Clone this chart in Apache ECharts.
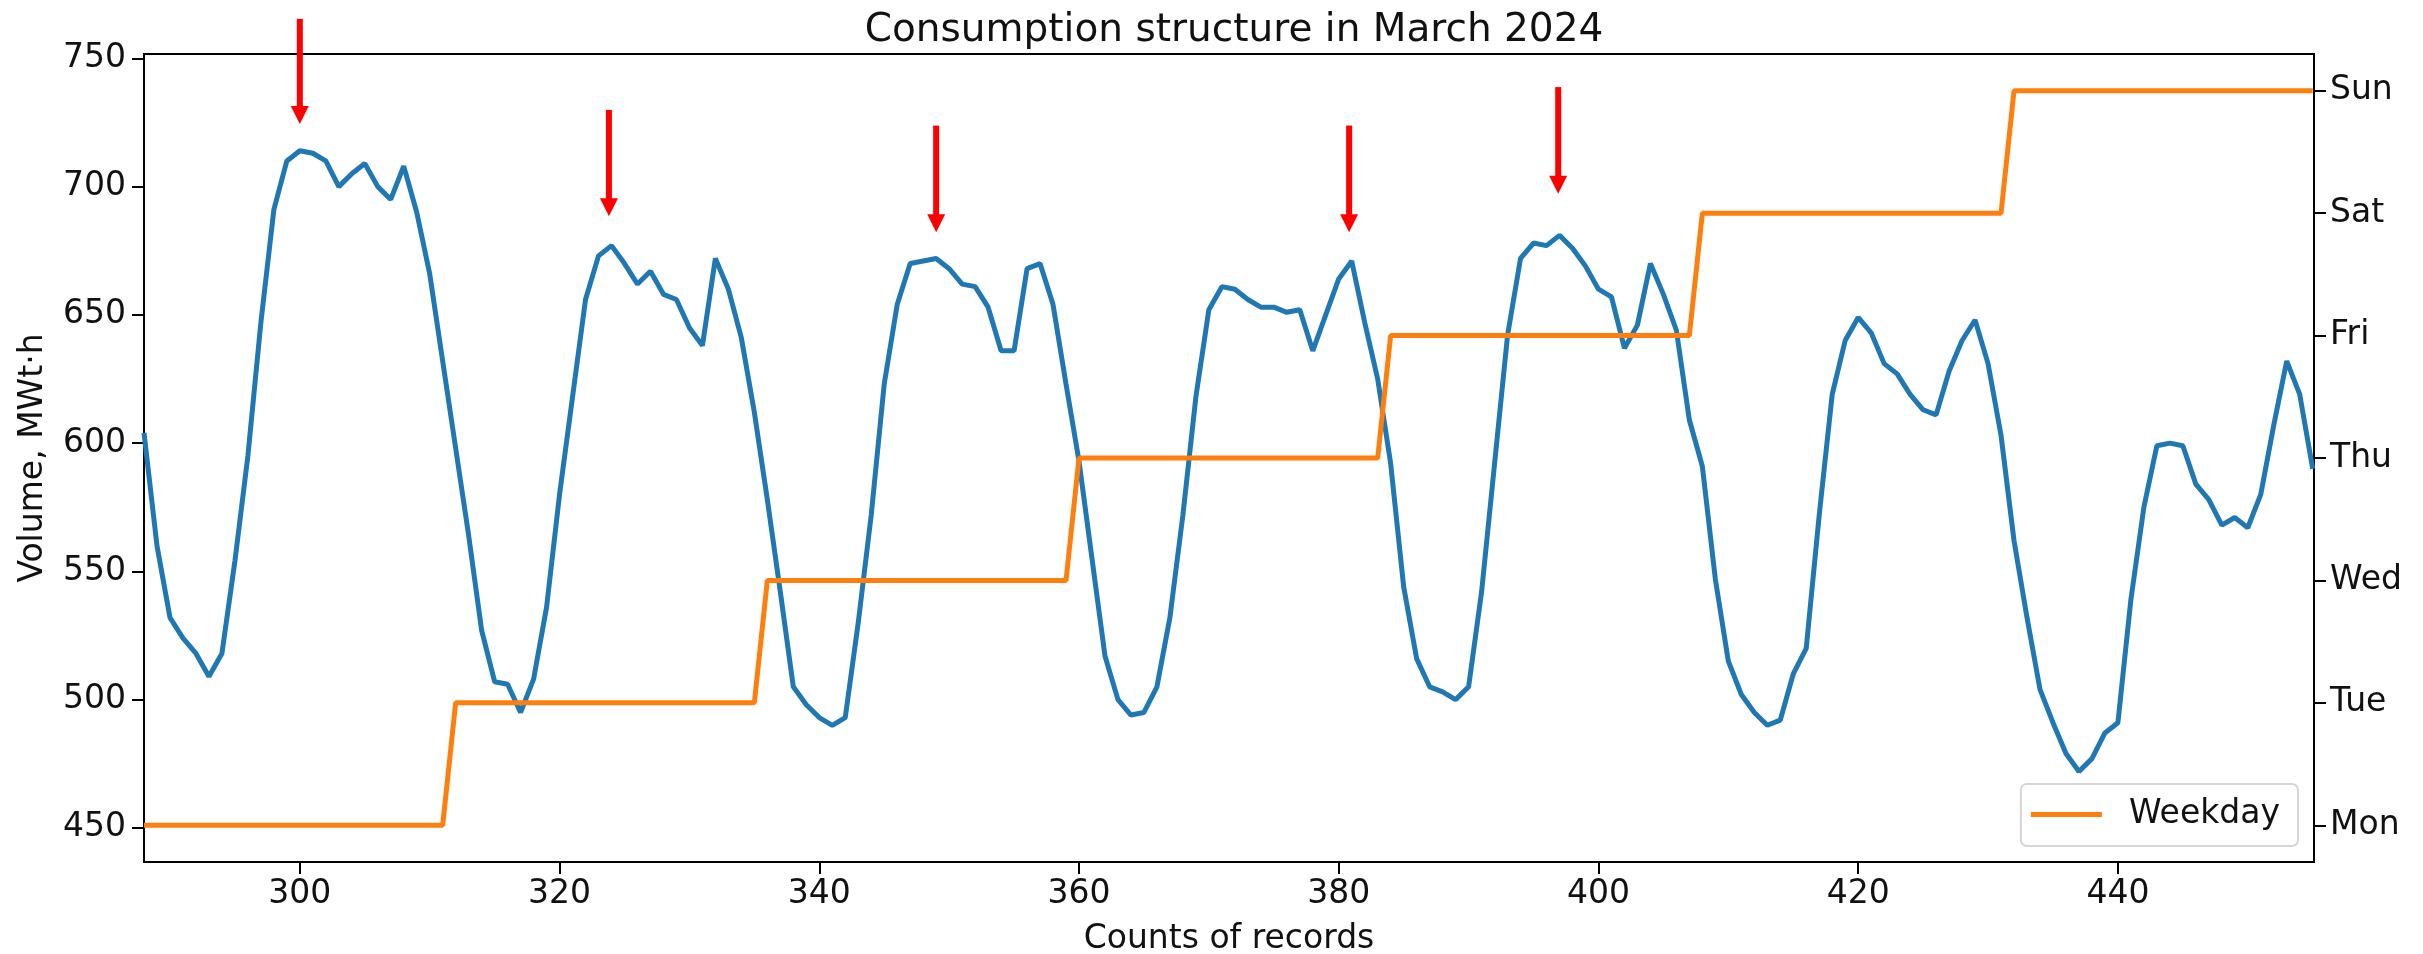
<!DOCTYPE html>
<html>
<head>
<meta charset="utf-8">
<title>Consumption structure in March 2024</title>
<script src="https://cdn.jsdelivr.net/npm/echarts@6/dist/echarts.min.js"></script>
<style>
  html, body { margin: 0; padding: 0; background: #fff; }
  #chart { width: 2423px; height: 954px; }
</style>
</head>
<body>
<div id="chart"></div>
<script>
// first record shown on the x axis, values follow one per record
var startRecord = 288;

// hourly consumption, MWt·h (records 288..455)
var volume = [
  604, 560, 532, 524, 518, 509, 518, 554, 595, 647, 691, 710,
  714, 713, 710, 700, 705, 709, 700, 695, 708, 690, 666, 632,
  598, 564, 527, 507, 506, 495, 508, 536, 580, 618, 656, 673,
  677, 670, 662, 667, 658, 656, 645, 638, 672, 660, 641, 612,
  578, 542, 505, 498, 493, 490, 493, 530, 572, 623, 654, 670,
  671, 672, 668, 662, 661, 653, 636, 636, 668, 670, 654, 623,
  593, 555, 517, 500, 494, 495, 505, 532, 572, 618, 652, 661,
  660, 656, 653, 653, 651, 652, 636, 650, 664, 671, 647, 625,
  592, 544, 516, 505, 503, 500, 505, 542, 592, 642, 672, 678,
  677, 681, 676, 669, 660, 657, 637, 646, 670, 658, 644, 609,
  591, 547, 515, 502, 495, 490, 492, 510, 520, 572, 619, 640,
  649, 643, 631, 627, 619, 613, 611, 628, 640, 648, 631, 603,
  562, 532, 504, 491, 479, 472, 477, 487, 491, 539, 575, 599,
  600, 599, 584, 578, 568, 571, 567, 580, 607, 632, 619, 590
];

// day of week index per record (0 = Mon), records 288..455
var weekday = [
  0, 0, 0, 0, 0, 0, 0, 0, 0, 0, 0, 0, 0, 0, 0, 0, 0, 0, 0, 0, 0, 0, 0, 0,
  1, 1, 1, 1, 1, 1, 1, 1, 1, 1, 1, 1, 1, 1, 1, 1, 1, 1, 1, 1, 1, 1, 1, 1,
  2, 2, 2, 2, 2, 2, 2, 2, 2, 2, 2, 2, 2, 2, 2, 2, 2, 2, 2, 2, 2, 2, 2, 2,
  3, 3, 3, 3, 3, 3, 3, 3, 3, 3, 3, 3, 3, 3, 3, 3, 3, 3, 3, 3, 3, 3, 3, 3,
  4, 4, 4, 4, 4, 4, 4, 4, 4, 4, 4, 4, 4, 4, 4, 4, 4, 4, 4, 4, 4, 4, 4, 4,
  5, 5, 5, 5, 5, 5, 5, 5, 5, 5, 5, 5, 5, 5, 5, 5, 5, 5, 5, 5, 5, 5, 5, 5,
  6, 6, 6, 6, 6, 6, 6, 6, 6, 6, 6, 6, 6, 6, 6, 6, 6, 6, 6, 6, 6, 6, 6, 6
];

var dayNames = ['Mon', 'Tue', 'Wed', 'Thu', 'Fri', 'Sat', 'Sun'];
var xTicks = [300, 320, 340, 360, 380, 400, 420, 440];
var yTicks = [450, 500, 550, 600, 650, 700, 750];
var dayTicks = [0, 1, 2, 3, 4, 5, 6];

// red arrows marking the daily peaks: record, start value, tip value
var arrowX = [300, 323.8, 349, 380.8, 396.9];
var arrowTop = [765.4, 729.9, 723.8, 723.8, 738.8];
var arrowTip = [724.4, 688.4, 682.2, 682.2, 697.2];

var volumePoints = volume.map(function (v, i) { return [startRecord + i, v]; });
var weekdayPoints = weekday.map(function (d, i) { return [startRecord + i, d]; });
var arrowData = arrowX.map(function (x, i) { return [x, arrowTop[i], arrowTip[i]]; });

var font = 'DejaVu Sans';
var ink = '#111';

var chart = echarts.init(document.getElementById('chart'), null, { renderer: 'canvas' });

var option = {
  animation: false,
  backgroundColor: '#fff',
  textStyle: { fontFamily: font },
  title: {
    text: 'Consumption structure in March 2024',
    left: 1229,
    textAlign: 'center',
    top: 6,
    textStyle: { fontFamily: font, fontSize: 39, fontWeight: 'normal', color: ink }
  },
  legend: {
    data: ['Weekday'],
    right: 125,
    top: 784,
    icon: 'rect',
    itemWidth: 71,
    itemHeight: 5,
    padding: [12, 18, 13, 10],
    borderColor: '#d6d6d6',
    borderWidth: 2,
    borderRadius: 6,
    backgroundColor: '#fff',
    textStyle: { fontFamily: font, fontSize: 33, color: ink, lineHeight: 37, padding: [0, 0, 0, 22] }
  },
  grid: {
    left: 144,
    top: 54,
    width: 2170,
    height: 808,
    // fixed plot box, do not shrink it to fit the labels
    outerBoundsMode: 'none',
    containLabel: false,
    show: true,
    borderColor: '#000',
    borderWidth: 2,
    backgroundColor: 'transparent'
  },
  xAxis: {
    type: 'value',
    min: 288,
    max: 455.1,
    name: 'Counts of records',
    nameLocation: 'middle',
    nameGap: 61,
    nameTextStyle: { fontFamily: font, fontSize: 33, color: ink },
    // keep the axis at the bottom, the weekday axis contains zero
    axisLine: { show: false, onZero: false },
    axisTick: { show: true, length: 12, customValues: xTicks, lineStyle: { color: '#000', width: 2 } },
    axisLabel: { customValues: xTicks, fontFamily: font, fontSize: 33, color: ink, margin: 16 },
    splitLine: { show: false }
  },
  yAxis: [
    {
      type: 'value',
      min: 436.7,
      max: 751.7,
      name: 'Volume, MWt·h',
      nameLocation: 'middle',
      nameGap: 94,
      nameRotate: 90,
      nameTextStyle: { fontFamily: font, fontSize: 33, color: ink },
      axisLine: { show: false, onZero: false },
      axisTick: { show: true, length: 12, customValues: yTicks, lineStyle: { color: '#000', width: 2 } },
      axisLabel: { customValues: yTicks, fontFamily: font, fontSize: 33, color: ink, margin: 18 },
      splitLine: { show: false }
    },
    {
      type: 'value',
      position: 'right',
      min: -0.3,
      max: 6.3,
      axisLine: { show: false, onZero: false },
      axisTick: { show: true, length: 12, customValues: dayTicks, lineStyle: { color: '#000', width: 2 } },
      axisLabel: {
        customValues: dayTicks,
        fontFamily: font, fontSize: 33, color: ink, margin: 16,
        formatter: function (v) { return dayNames[Math.round(v)]; }
      },
      splitLine: { show: false }
    }
  ],
  series: [
    {
      name: 'Volume',
      type: 'line',
      data: volumePoints,
      symbol: 'none',
      clip: true,
      lineStyle: { color: '#1f77b4', width: 5 },
      itemStyle: { color: '#1f77b4' },
      z: 2
    },
    {
      name: 'Weekday',
      type: 'line',
      yAxisIndex: 1,
      data: weekdayPoints,
      symbol: 'none',
      clip: true,
      lineStyle: { color: '#ff7f0e', width: 5 },
      itemStyle: { color: '#ff7f0e' },
      z: 3
    },
    {
      name: 'Peaks',
      type: 'custom',
      data: arrowData,
      encode: { x: 0, y: [1, 2] },
      clip: false,
      z: 5,
      renderItem: function (params, api) {
        var top = api.coord([api.value(0), api.value(1)]);
        var tip = api.coord([api.value(0), api.value(2)]);
        var headLen = 18, headHalf = 9, shaftHalf = 3;
        return {
          type: 'group',
          children: [
            {
              type: 'rect',
              shape: { x: top[0] - shaftHalf, y: top[1], width: shaftHalf * 2, height: tip[1] - headLen - top[1] + 1 },
              style: { fill: '#ff0000' }
            },
            {
              type: 'polygon',
              shape: { points: [[tip[0] - headHalf, tip[1] - headLen], [tip[0] + headHalf, tip[1] - headLen], [tip[0], tip[1]]] },
              style: { fill: '#ff0000' }
            }
          ]
        };
      }
    }
  ]
};

chart.setOption(option);
</script>
</body>
</html>
